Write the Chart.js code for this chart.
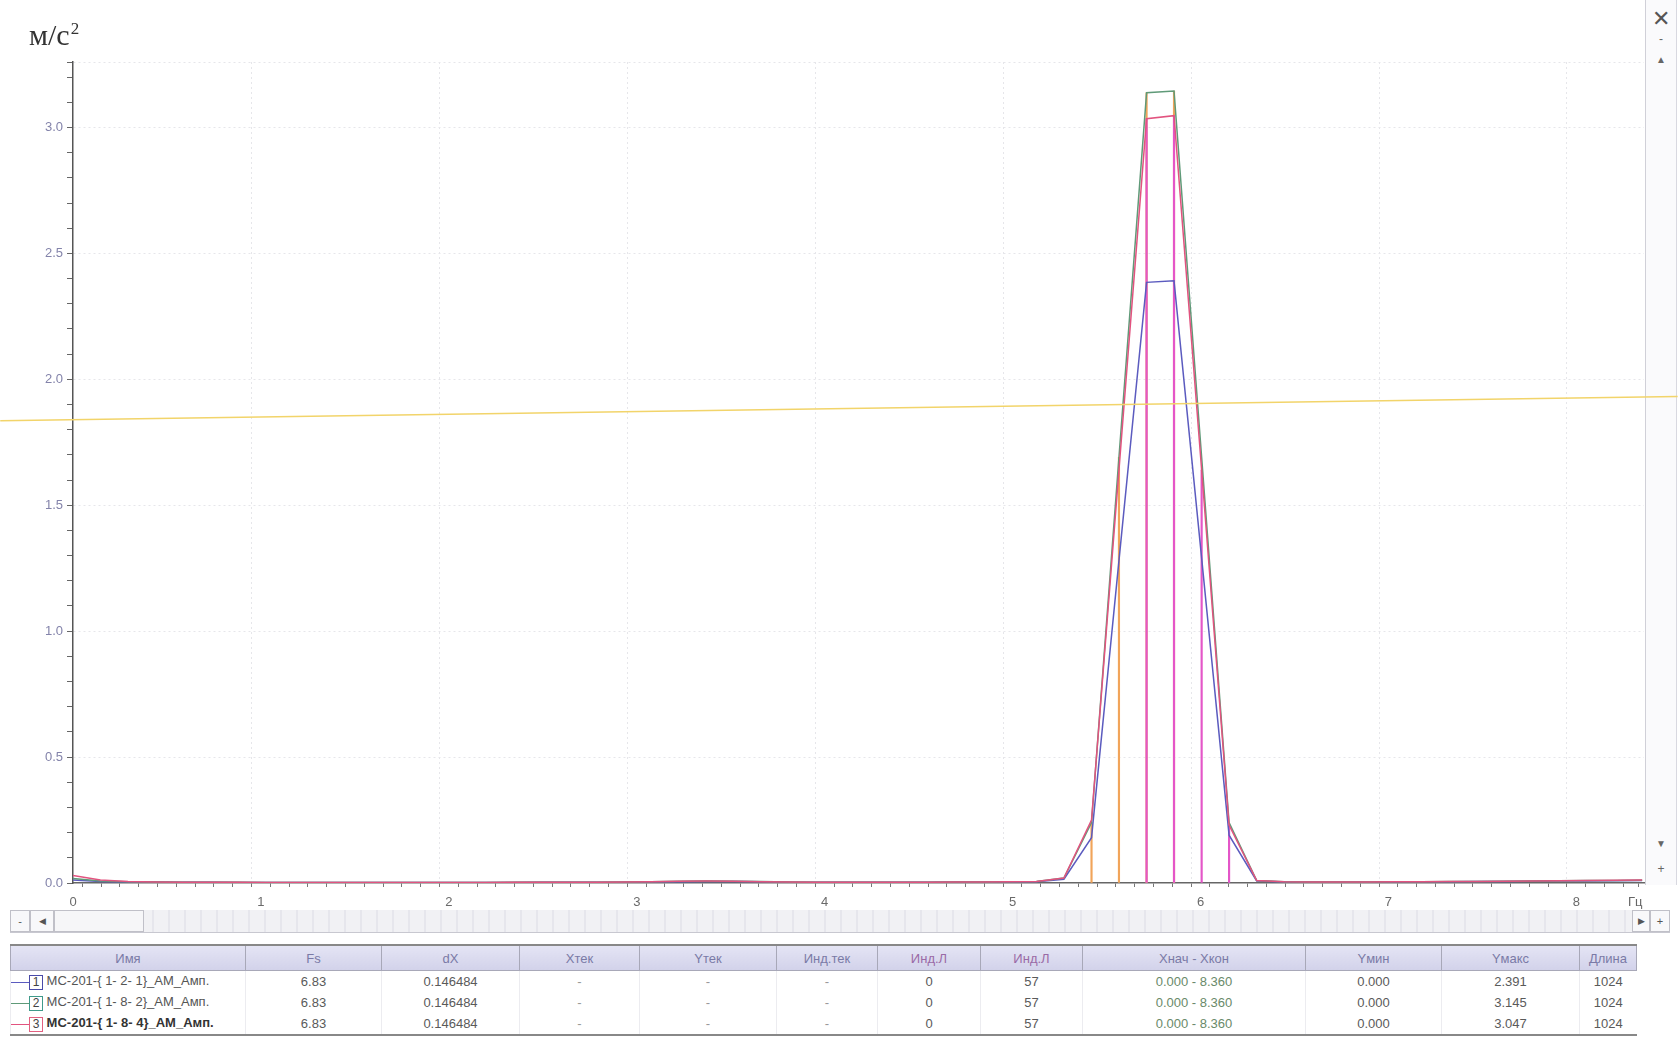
<!DOCTYPE html>
<html>
<head>
<meta charset="utf-8">
<script src="https://cdn.jsdelivr.net/npm/chart.js@4/dist/chart.umd.min.js"></script>
<style>
  html, body { margin: 0; padding: 0; background: #fff; }
  body { width: 1678px; height: 1037px; position: relative; overflow: hidden; font-family: "Liberation Sans", Arial, sans-serif; }
  #plot { position: absolute; left: 0; top: 0; z-index: 2; }
  .vstrip { position: absolute; left: 1645px; top: 0; width: 30px; height: 885px; border-left: 1px solid #d0d0d8; border-right: 1px solid #d8d8e0; background: #fafafc; z-index: 1; }
  .vbtn { position: absolute; left: 0; width: 30px; text-align: center; color: #666; font-size: 12px; }
  .hscroll { position: absolute; left: 10px; top: 910px; width: 1660px; height: 22px; background: repeating-linear-gradient(90deg, #f1f1f4 0 14px, #e6e6ec 14px 16px); border-bottom: 1px solid #c8c8d0; }
  .hbtn { position: absolute; top: 0; height: 20px; border: 1px solid #c0c0c8; background: #f8f8fa; color: #555; font-size: 11px; line-height: 20px; text-align: center; }
  table { position: absolute; left: 10px; top: 944px; border-collapse: collapse; table-layout: fixed; width: 1627px; font-size: 13px; }
  th { height: 22px; background: linear-gradient(#e4e4f4, #d2d2ea); color: #7a7aa6; font-weight: normal; border: 1px solid #a8a8b8; border-top: 2px solid #888; }
  td { height: 21px; color: #5a5a5a; text-align: center; border-left: 1px solid #ececf0; padding: 0; }
  tr:last-child td { border-bottom: 2px solid #888; }
  td.name { text-align: left; white-space: nowrap; color: #555; }
  td.rng { color: #6a8a6a; }
  .key { display: inline-block; vertical-align: middle; }
  .key i { display: inline-block; width: 18px; height: 0; border-top: 1px solid; vertical-align: middle; }
  .key b { display: inline-block; width: 12px; height: 13px; border: 1px solid; font-weight: normal; font-size: 12px; line-height: 13px; text-align: center; vertical-align: middle; color: #444; }
</style>
</head>
<body>
<div class="vstrip">
  <div class="vbtn" style="top:6px;font-size:22px;color:#555;">✕</div>
  <div class="vbtn" style="top:32px;">-</div>
  <div class="vbtn" style="top:54px;font-size:10px;">▲</div>
  <div class="vbtn" style="top:838px;font-size:10px;">▼</div>
  <div class="vbtn" style="top:862px;">+</div>
</div>
<canvas id="plot" width="1678" height="912"></canvas>
<div class="hscroll">
  <div class="hbtn" style="left:0;width:18px;">-</div>
  <div class="hbtn" style="left:20px;width:22px;font-size:9px;">◀</div>
  <div class="hbtn" style="left:44px;width:88px;background:#f6f6f8;"></div>
  <div class="hbtn" style="left:1622px;width:16px;font-size:9px;">▶</div>
  <div class="hbtn" style="left:1640px;width:18px;">+</div>
</div>
<table id="info"></table>
<script>
// Spectrum bins: frequency in Hz, step dX = 0.146484
const freqs = [
  0.000, 0.146, 0.293, 0.439, 0.586, 0.732, 0.879, 1.025, 1.172, 1.318,
  1.465, 1.611, 1.758, 1.904, 2.051, 2.197, 2.344, 2.490, 2.637, 2.783,
  2.930, 3.076, 3.223, 3.369, 3.516, 3.662, 3.809, 3.955, 4.102, 4.248,
  4.395, 4.541, 4.688, 4.834, 4.980, 5.127, 5.273, 5.420, 5.566, 5.713,
  5.859, 6.006, 6.152, 6.299, 6.445, 6.592, 6.738, 6.885, 7.031, 7.178,
  7.324, 7.471, 7.617, 7.764, 7.910, 8.057, 8.203, 8.350
];

// Amplitude spectra, м/с²
const amp1 = [
  0.012, 0.006, 0.004, 0.004, 0.003, 0.003, 0.002, 0.002, 0.002, 0.002,
  0.002, 0.002, 0.002, 0.002, 0.002, 0.002, 0.002, 0.003, 0.003, 0.003,
  0.003, 0.004, 0.005, 0.006, 0.006, 0.005, 0.003, 0.003, 0.003, 0.003,
  0.003, 0.003, 0.004, 0.004, 0.004, 0.005, 0.015, 0.180, 1.280, 2.385,
  2.391, 1.290, 0.190, 0.008, 0.004, 0.004, 0.004, 0.004, 0.004, 0.005,
  0.005, 0.006, 0.006, 0.007, 0.008, 0.008, 0.009, 0.010
];
const amp2 = [
  0.018, 0.008, 0.005, 0.004, 0.003, 0.003, 0.003, 0.002, 0.002, 0.002,
  0.002, 0.002, 0.002, 0.002, 0.002, 0.002, 0.003, 0.003, 0.003, 0.003,
  0.004, 0.005, 0.007, 0.008, 0.007, 0.006, 0.004, 0.003, 0.003, 0.003,
  0.003, 0.003, 0.004, 0.004, 0.005, 0.006, 0.020, 0.240, 1.690, 3.138,
  3.145, 1.690, 0.240, 0.010, 0.005, 0.004, 0.004, 0.004, 0.005, 0.005,
  0.006, 0.006, 0.007, 0.008, 0.009, 0.010, 0.010, 0.011
];
const amp3 = [
  0.030, 0.012, 0.006, 0.004, 0.003, 0.003, 0.003, 0.002, 0.002, 0.002,
  0.002, 0.002, 0.002, 0.002, 0.002, 0.002, 0.003, 0.003, 0.003, 0.003,
  0.004, 0.005, 0.007, 0.008, 0.007, 0.005, 0.004, 0.003, 0.003, 0.003,
  0.003, 0.003, 0.004, 0.004, 0.005, 0.006, 0.020, 0.250, 1.640, 3.035,
  3.047, 1.640, 0.230, 0.010, 0.005, 0.004, 0.004, 0.004, 0.005, 0.005,
  0.006, 0.006, 0.007, 0.008, 0.009, 0.010, 0.011, 0.012
];

// Highlighted bins (marker stems) between the cursor indices
const stemOrangeIdx = [37, 38, 39, 40];
const stemMagentaIdx = [39, 40, 41, 42];

// Horizontal threshold cursor, drawn across the whole window
const levelX = [-0.387, 8.539];
const levelY = [1.835, 1.932];

const yTickLabels = ['0.0', '0.5', '1.0', '1.5', '2.0', '2.5', '3.0'];
const xTickLabels = ['0', '1', '2', '3', '4', '5', '6', '7', '8'];

// Info table
const tableHeader = ['Имя', 'Fs', 'dX', 'Xтек', 'Yтек', 'Инд.тек', 'Инд.Л', 'Инд.Л', 'Xнач - Xкон', 'Yмин', 'Yмакс', 'Длина'];
const seriesNames = ['MC-201-{ 1- 2- 1}_AM_Амп.', 'MC-201-{ 1- 8- 2}_AM_Амп.', 'MC-201-{ 1- 8- 4}_AM_Амп.'];
const seriesFs = ['6.83', '6.83', '6.83'];
const seriesDx = ['0.146484', '0.146484', '0.146484'];
const seriesIndL = ['0', '0', '0'];
const seriesIndR = ['57', '57', '57'];
const seriesRange = ['0.000 - 8.360', '0.000 - 8.360', '0.000 - 8.360'];
const seriesYmin = ['0.000', '0.000', '0.000'];
const seriesYmax = ['2.391', '3.145', '3.047'];
const seriesLen = ['1024', '1024', '1024'];
const seriesColors = ['#5b5bbf', '#5f9a78', '#e2537f'];
const keyBoxColors = ['#4a4aa8', '#3f9a8a', '#e26080'];

const pts = arr => arr.map((v, i) => ({ x: freqs[i], y: v }));
const stemPts = (idx, arr) => idx.map(i => ({ x: freqs[i], y: arr[i] }));

const isMultiple = (v, step) => Math.abs(v / step - Math.round(v / step)) < 1e-6;

const unitsPlugin = {
  id: 'units',
  afterDraw(chart) {
    const ctx = chart.ctx;
    ctx.save();
    ctx.fillStyle = '#333';
    ctx.textBaseline = 'alphabetic';
    ctx.font = '30px "Liberation Serif", "DejaVu Serif", serif';
    ctx.fillText('м/с', 29, 45);
    const w = ctx.measureText('м/с').width;
    ctx.font = '17px "Liberation Serif", "DejaVu Serif", serif';
    ctx.fillText('2', 29 + w + 1, 34);
    ctx.font = '13px "Liberation Sans", Arial, sans-serif';
    ctx.fillStyle = '#666';
    ctx.fillText('Гц', 1628, 906);
    ctx.restore();
  }
};

new Chart(document.getElementById('plot'), {
  data: {
    datasets: [
      { type: 'line', data: levelX.map((x, i) => ({ x, y: levelY[i] })), borderColor: '#f2d46a', borderWidth: 1.5, pointRadius: 0, clip: false, order: 0 },
      { type: 'line', data: pts(amp3), borderColor: seriesColors[2], borderWidth: 1.5, pointRadius: 0, order: 1 },
      { type: 'line', data: pts(amp2), borderColor: seriesColors[1], borderWidth: 1.5, pointRadius: 0, order: 2 },
      { type: 'line', data: pts(amp1), borderColor: seriesColors[0], borderWidth: 1.5, pointRadius: 0, order: 3 },
      { type: 'bar', data: stemPts(stemMagentaIdx, amp3), backgroundColor: '#e456c8', barThickness: 1.5, grouped: false, order: 4 },
      { type: 'bar', data: stemPts(stemOrangeIdx, amp2), backgroundColor: '#f1a45a', barThickness: 1.5, grouped: false, order: 5 }
    ]
  },
  options: {
    responsive: false,
    animation: false,
    devicePixelRatio: 1,
    layout: { padding: { left: 0, right: 34, top: 62, bottom: 0 } },
    plugins: { legend: { display: false }, tooltip: { enabled: false } },
    scales: {
      x: {
        type: 'linear',
        min: 0,
        max: 8.36,
        offset: false,
        afterFit(scale) { scale.height = 29; },
        afterBuildTicks(scale) {
          const t = [];
          for (let k = 0; k <= 83; k++) t.push({ value: k / 10 });
          t.push({ value: 8.36 });
          scale.ticks = t;
        },
        ticks: {
          autoSkip: false,
          maxRotation: 0,
          padding: 8,
          color: '#6a6a6a',
          font: { size: 13, family: '"Liberation Sans", Arial, sans-serif' },
          callback(v) {
            if (isMultiple(v, 1)) return xTickLabels[Math.round(v)] ?? '';
            return '';
          }
        },
        grid: {
          drawOnChartArea: true,
          tickLength: 4,
          color(c) { return c.tick && isMultiple(c.tick.value, 1) && c.tick.value > 0 ? '#e6e6ea' : 'rgba(0,0,0,0)'; },
          tickColor: '#777'
        },
        border: { color: '#666', width: 1.5, dash: [2, 3] }
      },
      y: {
        type: 'linear',
        min: 0,
        max: 3.26,
        afterFit(scale) { scale.width = 73; },
        afterBuildTicks(scale) {
          const t = [];
          for (let k = 0; k <= 32; k++) t.push({ value: k / 10 });
          t.push({ value: 3.26 });
          scale.ticks = t;
        },
        ticks: {
          autoSkip: false,
          padding: 4,
          color: '#8383aa',
          font: { size: 13, family: '"Liberation Sans", Arial, sans-serif' },
          callback(v) {
            if (isMultiple(v, 0.5)) return yTickLabels[Math.round(v * 2)] ?? '';
            return '';
          }
        },
        grid: {
          drawOnChartArea: true,
          tickLength: 6,
          color(c) {
            if (!c.tick) return 'rgba(0,0,0,0)';
            const v = c.tick.value;
            return (isMultiple(v, 0.5) && v > 0) || v > 3.25 ? '#e6e6ea' : 'rgba(0,0,0,0)';
          },
          tickColor: '#666'
        },
        border: { color: '#555', width: 1.5, dash: [2, 3] }
      }
    }
  },
  plugins: [unitsPlugin]
});

// Build the info table below the plot
(function buildTable() {
  const widths = [235, 136, 138, 120, 137, 101, 103, 102, 223, 136, 138, 57];
  const tbl = document.getElementById('info');
  const cg = document.createElement('colgroup');
  widths.forEach(w => { const c = document.createElement('col'); c.style.width = w + 'px'; cg.appendChild(c); });
  tbl.appendChild(cg);
  const hr = document.createElement('tr');
  tableHeader.forEach((h, i) => {
    const th = document.createElement('th');
    th.textContent = h;
    if (i === 6 || i === 7) th.style.color = '#9a6aa6';
    hr.appendChild(th);
  });
  tbl.appendChild(hr);
  seriesNames.forEach((name, r) => {
    const tr = document.createElement('tr');
    const tdN = document.createElement('td');
    tdN.className = 'name';
    const key = document.createElement('span');
    key.className = 'key';
    key.innerHTML = '<i style="border-color:' + seriesColors[r] + '"></i><b style="border-color:' + keyBoxColors[r] + '">' + (r + 1) + '</b>';
    tdN.appendChild(key);
    const txt = document.createElement('span');
    txt.textContent = ' ' + name;
    if (r === 2) { txt.style.fontWeight = 'bold'; txt.style.color = '#333'; }
    tdN.appendChild(txt);
    tr.appendChild(tdN);
    const vals = [seriesFs[r], seriesDx[r], '-', '-', '-', seriesIndL[r], seriesIndR[r], seriesRange[r], seriesYmin[r], seriesYmax[r], seriesLen[r]];
    vals.forEach((v, i) => {
      const td = document.createElement('td');
      td.textContent = v;
      if (i === 7) td.className = 'rng';
      if (v === '-') td.style.color = '#999';
      tr.appendChild(td);
    });
    tbl.appendChild(tr);
  });
})();
</script>
</body>
</html>
